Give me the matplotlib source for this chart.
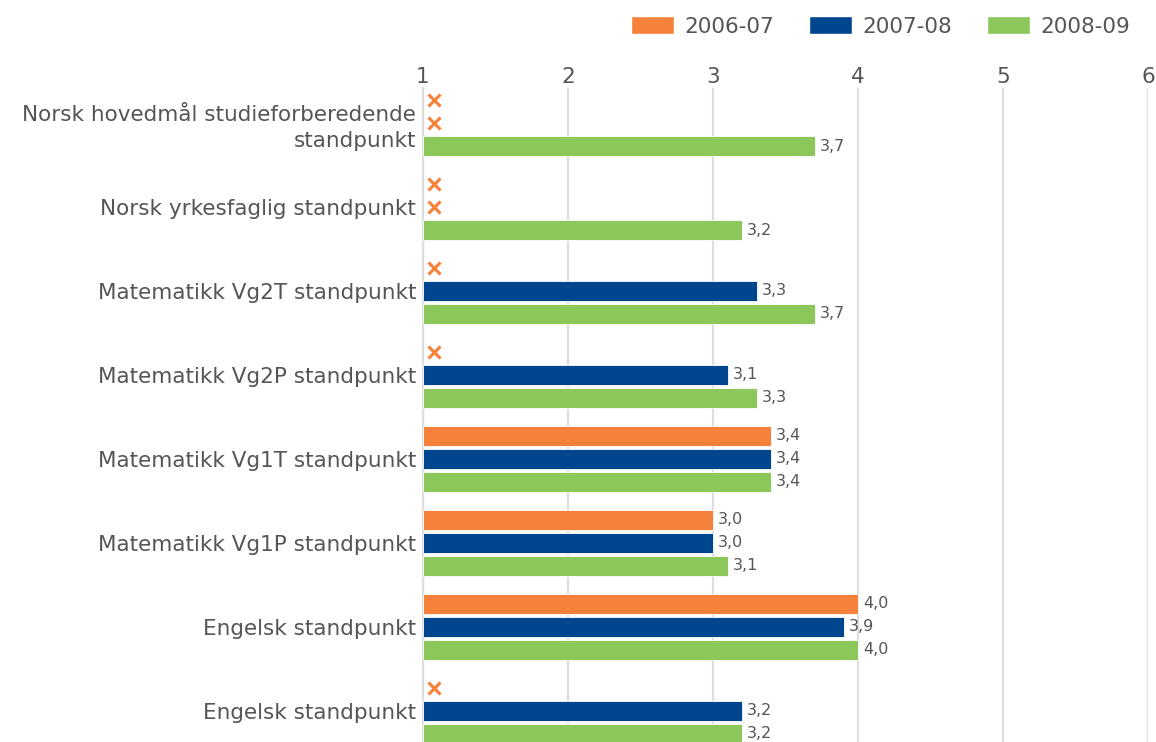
import numpy as np
import matplotlib
matplotlib.use("Agg")
import matplotlib.pyplot as plt
from matplotlib.patches import Patch
from matplotlib.transforms import ScaledTranslation

# Daten (NaN = kein Wert, wird als "x" markiert)
CATEGORIES = [
    "Norsk hovedmål studieforberedende\nstandpunkt",
    "Norsk yrkesfaglig standpunkt",
    "Matematikk Vg2T standpunkt",
    "Matematikk Vg2P standpunkt",
    "Matematikk Vg1T standpunkt",
    "Matematikk Vg1P standpunkt",
    "Engelsk standpunkt",
    "Engelsk standpunkt",
]
SERIES = ["2006-07", "2007-08", "2008-09"]
V_2006 = [np.nan, np.nan, np.nan, np.nan, 3.4, 3.0, 4.0, np.nan]
V_2007 = [np.nan, np.nan, 3.3, 3.1, 3.4, 3.0, 3.9, 3.2]
V_2008 = [3.7, 3.2, 3.7, 3.3, 3.4, 3.1, 4.0, 3.2]
X_TICKS = [1, 2, 3, 4, 5, 6]

COLORS = ["#F5813A", "#00468E", "#8BC75A"]
TEXT = "#555555"
GRID = "#dedede"
FS = 15.5

W, H = 1156, 742
fig = plt.figure(figsize=(W / 100, H / 100), dpi=100)
ax = fig.add_axes([423 / W, 0.0, (1148 - 423) / W, 1 - 88 / H])

y = np.arange(len(CATEGORIES))
step = 23 / 84
height = 20 / 84
offset_x = ScaledTranslation(11 / 100, 0, fig.dpi_scale_trans)

for i, (vals, color) in enumerate(zip([V_2006, V_2007, V_2008], COLORS)):
    vals = np.asarray(vals, dtype=float)
    ys = y + (i - 1) * step
    ok = ~np.isnan(vals)
    ax.barh(ys[ok], vals[ok] - 1, left=1, height=height, color=color,
            edgecolor="white", linewidth=0.6, zorder=3)
    for yy, v in zip(ys[ok], vals[ok]):
        ax.annotate(f"{v:.1f}".replace(".", ","), (v, yy), xytext=(5, 0),
                    textcoords="offset pixels", va="center", ha="left",
                    fontsize=11.5, color=TEXT)
    # fehlende Werte: orangenes Kreuz
    if (~ok).any():
        ax.plot(np.ones((~ok).sum()), ys[~ok], linestyle="none", marker="x",
                markersize=9, markeredgewidth=2.2, color=COLORS[0],
                transform=ax.transData + offset_x, zorder=4, clip_on=False)

ax.set_xlim(1, 6)
ax.set_ylim(7.37, -0.417)
ax.set_xticks(X_TICKS)
ax.xaxis.tick_top()
ax.tick_params(axis="x", length=0, pad=1, labelsize=FS, labelcolor=TEXT)
ax.set_yticks(y)
ax.set_yticklabels(CATEGORIES, fontsize=FS, color=TEXT, linespacing=1.4)
ax.tick_params(axis="y", length=0, pad=5)
ax.grid(axis="x", color=GRID, linewidth=1.6, zorder=0)
for s in ["top", "right", "bottom"]:
    ax.spines[s].set_visible(False)
ax.spines["left"].set_color(GRID)
ax.spines["left"].set_linewidth(1.6)

handles = [Patch(facecolor=c, edgecolor="white", label=s)
           for c, s in zip(COLORS, SERIES)]
fig.legend(handles=handles, loc="upper right", bbox_to_anchor=(1150 / W, 1 + 3 / H),
           ncol=3, frameon=False, fontsize=FS, handlelength=2.0, handleheight=0.9,
           columnspacing=1.6, handletextpad=0.5, labelcolor=TEXT)

fig.savefig("out.png", dpi=100)
